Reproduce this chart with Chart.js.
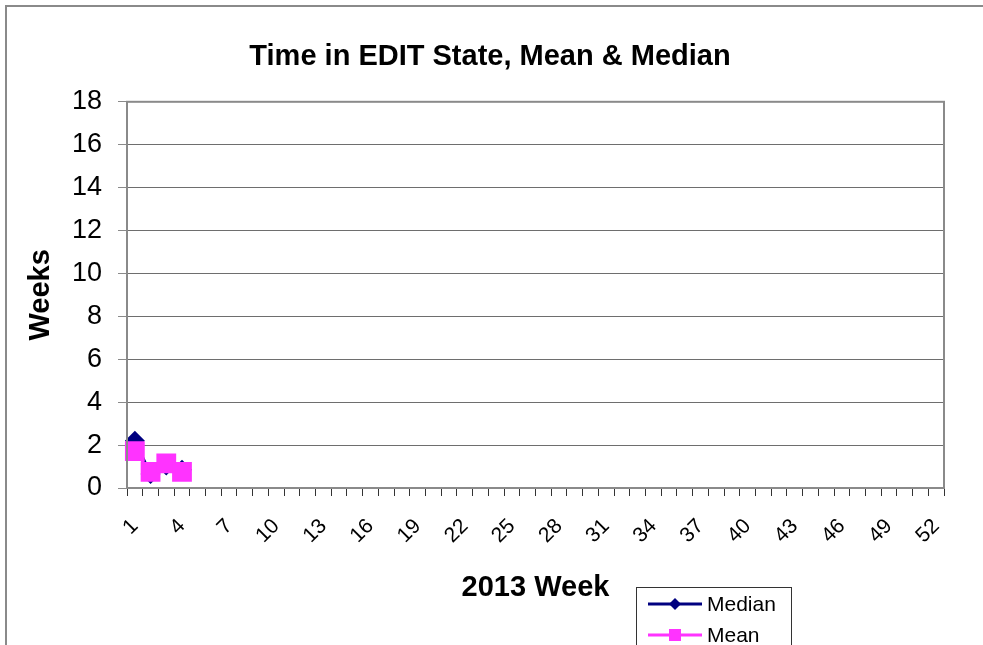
<!DOCTYPE html>
<html>
<head>
<meta charset="utf-8">
<script src="https://cdn.jsdelivr.net/npm/chart.js@4.4.0/dist/chart.umd.min.js"></script>
<style>
  html, body { margin: 0; padding: 0; background: #fff; }
  #wrap { width: 983px; height: 645px; position: relative; }
</style>
</head>
<body>
<div id="wrap"><canvas id="chart" width="983" height="645"></canvas></div>
<script>
// 2013 weeks on the x axis
const weeks = ["1","2","3","4","5","6","7","8","9","10","11","12","13","14","15","16","17","18","19","20",
  "21","22","23","24","25","26","27","28","29","30","31","32","33","34","35","36","37","38","39","40",
  "41","42","43","44","45","46","47","48","49","50","51","52"];
// only every third week gets a label
const shownWeeks = ["1","4","7","10","13","16","19","22","25","28","31","34","37","40","43","46","49","52"];

// weeks spent in EDIT state (only first 4 weeks have data)
const median = [2.2, 0.65, 1.05, 0.85];
const mean = [1.72, 0.75, 1.15, 0.75];

const NAVY = "#000080";
const PINK = "#FF33FF";
const FONT = "'Liberation Sans', Arial, sans-serif";

Chart.defaults.font.family = FONT;
Chart.defaults.color = "#000";

// gray frame around the whole chart and the plot area
const frames = {
  id: "frames",
  beforeDraw(chart) {
    const ctx = chart.ctx;
    ctx.save();
    ctx.strokeStyle = "#8a8a8a";
    ctx.lineWidth = 2;
    ctx.strokeRect(6, 6, 1100, 800);
    ctx.restore();
  },
  afterDatasetsDraw(chart) {
    const a = chart.chartArea;
    const ctx = chart.ctx;
    ctx.save();
    ctx.strokeStyle = "#8a8a8a";
    ctx.lineWidth = 2;
    ctx.strokeRect(a.left, a.top, a.right - a.left, a.bottom - a.top);
    ctx.restore();
  }
};

// boxed legend sitting to the right of the x axis title
const boxLegend = {
  id: "boxLegend",
  afterDraw(chart) {
    const ctx = chart.ctx;
    const x = 636, y = 587;
    ctx.save();
    ctx.fillStyle = "#fff";
    ctx.fillRect(x, y, 155, 70);
    ctx.strokeStyle = "#333";
    ctx.lineWidth = 1;
    ctx.strokeRect(x + 0.5, y + 0.5, 155, 70);
    chart.data.datasets.forEach((ds, i) => {
      const cy = y + 17 + i * 31;
      ctx.strokeStyle = ds.borderColor;
      ctx.lineWidth = 3;
      ctx.beginPath();
      ctx.moveTo(x + 12, cy);
      ctx.lineTo(x + 66, cy);
      ctx.stroke();
      ctx.fillStyle = ds.borderColor;
      ctx.beginPath();
      if (ds.pointStyle === "rectRot") {
        ctx.moveTo(x + 39, cy - 6);
        ctx.lineTo(x + 45, cy);
        ctx.lineTo(x + 39, cy + 6);
        ctx.lineTo(x + 33, cy);
        ctx.closePath();
      } else {
        ctx.rect(x + 33, cy - 6, 12, 12);
      }
      ctx.fill();
      ctx.fillStyle = "#000";
      ctx.font = "21px " + FONT;
      ctx.textBaseline = "middle";
      ctx.fillText(ds.label, x + 71, cy + 1);
    });
    ctx.restore();
  }
};

new Chart(document.getElementById("chart"), {
  type: "line",
  data: {
    labels: weeks,
    datasets: [
      {
        label: "Median",
        data: median,
        order: 1,
        borderColor: NAVY,
        backgroundColor: NAVY,
        borderWidth: 3,
        pointStyle: "rectRot",
        pointRadius: 10,
        pointBorderWidth: 0,
        tension: 0
      },
      {
        label: "Mean",
        data: mean,
        order: 0,
        borderColor: PINK,
        backgroundColor: PINK,
        borderWidth: 3,
        pointStyle: "rect",
        pointRadius: 14,
        pointBorderWidth: 0,
        tension: 0
      }
    ]
  },
  options: {
    responsive: false,
    animation: false,
    layout: { padding: { left: 36, right: 39, top: 0, bottom: 30 } },
    plugins: {
      legend: { display: false },
      tooltip: { enabled: false },
      title: {
        display: true,
        text: "Time in EDIT State, Mean & Median",
        font: { size: 29, weight: "bold" },
        color: "#000",
        padding: { top: 40, bottom: 27 }
      }
    },
    scales: {
      x: {
        offset: true,
        afterFit(scale) { scale.height = 127; },
        grid: {
          offset: true,
          drawOnChartArea: false,
          drawTicks: true,
          tickLength: 8,
          tickColor: "#333"
        },
        border: { display: true, color: "#8a8a8a", width: 2 },
        ticks: {
          autoSkip: false,
          minRotation: 45,
          maxRotation: 45,
          padding: 18,
          font: { size: 21 },
          color: "#000",
          callback(value, index) {
            const w = weeks[index];
            return shownWeeks.includes(w) ? w : "";
          }
        },
        title: {
          display: true,
          text: "2013 Week",
          font: { size: 29, weight: "bold" },
          color: "#000",
          padding: { top: 4, bottom: 10 }
        }
      },
      y: {
        min: 0,
        max: 18,
        afterFit(scale) { scale.width = 91; },
        grid: {
          color: "#6e6e6e",
          lineWidth: 1,
          drawTicks: true,
          tickLength: 9,
          tickColor: "#8a8a8a"
        },
        border: { display: true, color: "#8a8a8a", width: 2 },
        ticks: {
          stepSize: 2,
          padding: 16,
          font: { size: 27 },
          color: "#000"
        },
        title: {
          display: true,
          text: "Weeks",
          font: { size: 29, weight: "bold" },
          color: "#000",
          padding: { top: -12, bottom: 4 }
        }
      }
    }
  },
  plugins: [frames, boxLegend]
});
</script>
</body>
</html>
